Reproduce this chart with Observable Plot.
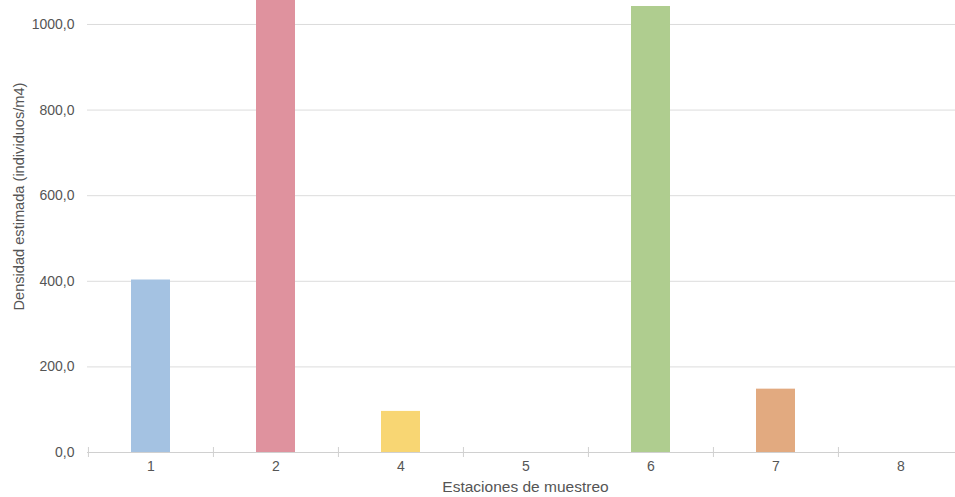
<!DOCTYPE html>
<html><head><meta charset="utf-8">
<script src="https://cdn.jsdelivr.net/npm/d3@7"></script>
<script src="https://cdn.jsdelivr.net/npm/@observablehq/plot@0.6"></script>
<style>body{margin:0;background:#fff} svg{display:block}</style>
</head><body><div id="chart"></div><script>
const stations = ["1", "2", "4", "5", "6", "7", "8"];
const density = [403, 1110, 96, 0, 1042, 148, 0];
const barColors = ["#a4c2e2", "#df929e", "#f8d673", "#b9a6d6", "#afcd8f", "#e2aa80", "#8fcfcf"];
const yTicks = [0, 200, 400, 600, 800, 1000];
const yTitle = "Densidad estimada (individuos/m4)";
const xTitle = "Estaciones de muestreo";

const data = stations.map((s, i) => ({station: s, density: density[i]}));
const fmt = d => d.toFixed(1).replace(".", ",");
const W = 955, H = 497, mL = 87, mB = 45, mT = 0;
const xRange = [87, 963];
const step = (xRange[1] - xRange[0]) / stations.length;

const chart = Plot.plot({
  width: W, height: H, marginTop: mT, marginBottom: mB, marginLeft: mL, marginRight: 0,
  style: {fontFamily: "'Liberation Sans', Arial, sans-serif", fontSize: "14px", color: "#555", background: "#fff"},
  x: {domain: stations, range: xRange, paddingInner: 0.69, paddingOuter: 0.345},
  y: {domain: [0, 1056]},
  color: {domain: stations, range: barColors},
  marks: [
    Plot.gridY(yTicks, {stroke: "#dcdcdc", strokeOpacity: 1}),
    Plot.barY(data, {x: "station", y: "density", fill: "station", clip: true}),
    Plot.ruleY([0], {stroke: "#d0d0d0"}),
    Plot.ruleX(stations, {x: d => d, dx: -step / 2, stroke: "#d0d0d0",
      insetTop: H - mT - mB - 5, insetBottom: -5}),
    Plot.axisY(yTicks, {tickSize: 0, tickPadding: 13, tickFormat: fmt, label: null, fill: "#555"}),
    Plot.axisX({tickSize: 0, tickPadding: 9, label: null, fill: "#555"}),
    Plot.text([yTitle], {frameAnchor: "left", textAnchor: "middle", rotate: -90, dx: -68, dy: -30, fill: "#555", fontSize: 14.6}),
    Plot.text([xTitle], {frameAnchor: "bottom", textAnchor: "middle", dx: 4, dy: 39, fill: "#555", fontSize: 15.5})
  ]
});
document.getElementById("chart").appendChild(chart);
</script></body></html>
